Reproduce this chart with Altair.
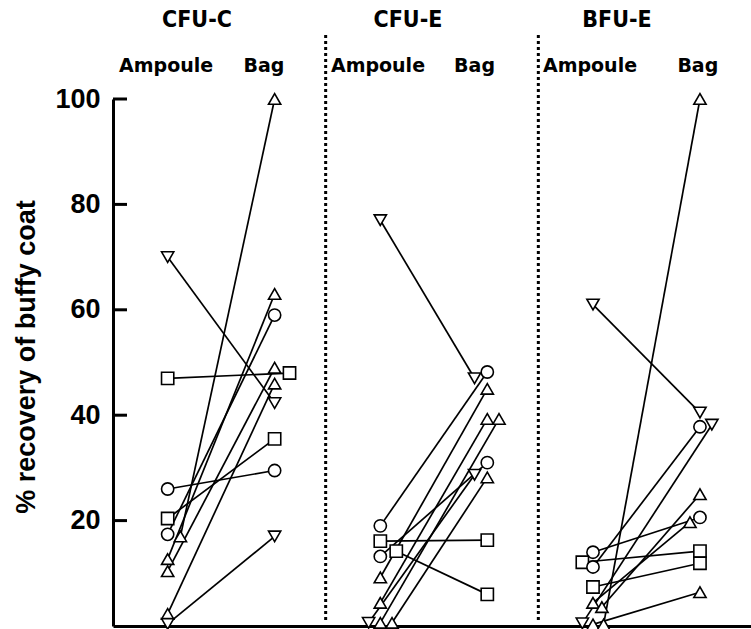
import altair as alt
import pandas as pd

# Recovery (%) of progenitors from buffy coat, frozen in ampoules vs bags.
panels = ["CFU-C", "CFU-E", "BFU-E"]

# one entry per sample: marker, ampoule value, bag value
cfuc_shape = ["triangle-down", "square", "circle", "square", "circle",
              "triangle-up", "triangle-up", "triangle-up", "triangle-up", "triangle-down"]
cfuc_ampoule = [70, 47, 26, 20.4, 17.4, 17, 12.7, 10.4, 2.3, 0.4]
cfuc_bag = [42.3, 48, 29.5, 35.5, 59, 100, 63, 49, 46, 17]

cfue_shape = ["triangle-down", "circle", "square", "square", "circle",
              "triangle-up", "triangle-up", "triangle-down", "triangle-up", "triangle-up"]
cfue_ampoule = [77, 19, 16.1, 14.2, 13.2, 9.2, 4.4, 0.6, 0.6, 0.6]
cfue_bag = [47, 48.2, 16.3, 6.0, 31.0, 45, 39.3, 28.7, 39.3, 28.2]

bfue_shape = ["triangle-down", "circle", "square", "circle", "square",
              "triangle-up", "triangle-up", "triangle-down", "triangle-up", "triangle-up"]
bfue_ampoule = [61, 14, 12.1, 11.2, 7.4, 4.4, 3.6, 0.5, 0.3, 0.3]
bfue_bag = [40.5, 20.6, 14.2, 37.8, 11.9, 19.7, 25, 38.2, 6.4, 100]

# small horizontal spread so overlapping markers stay visible
cfuc_amp_dx = [0, 0, 0, 0, 0, 0.06, 0, 0, 0, 0]
cfuc_bag_dx = [0, 0.07, 0, 0, 0, 0, 0, 0, 0, 0]
cfue_amp_dx = [0, 0, 0, 0.075, 0, 0, 0, -0.055, 0, 0.055]
cfue_bag_dx = [-0.06, 0, 0, 0, 0, 0, 0, -0.06, 0.055, 0]
bfue_amp_dx = [0, 0, -0.05, 0, 0, 0, 0.042, -0.05, 0, 0.05]
bfue_bag_dx = [0, 0, 0, 0, 0, -0.047, 0, 0.056, 0, 0]

AMP_X, BAG_X = 0.257, 0.76

rows = []
sets = [
    (cfuc_shape, cfuc_ampoule, cfuc_bag, cfuc_amp_dx, cfuc_bag_dx),
    (cfue_shape, cfue_ampoule, cfue_bag, cfue_amp_dx, cfue_bag_dx),
    (bfue_shape, bfue_ampoule, bfue_bag, bfue_amp_dx, bfue_bag_dx),
]
for p, (shp, amp, bag, adx, bdx) in enumerate(sets):
    for i in range(len(shp)):
        pid = f"{panels[p]}-{i}"
        rows.append(dict(pair=pid, shape=shp[i], x=p + AMP_X + adx[i], y=amp[i], stage=0))
        rows.append(dict(pair=pid, shape=shp[i], x=p + BAG_X + bdx[i], y=bag[i], stage=1))
df = pd.DataFrame(rows)

LABEL_FONT = "Liberation Sans"

x_scale = alt.Scale(domain=[0, 3], nice=False, zero=False)
y_scale = alt.Scale(domain=[0, 100], nice=False)
x_axis = alt.Axis(labels=False, ticks=False, grid=False, title=None,
                  domainWidth=3, domainColor="black")
y_axis = alt.Axis(values=[20, 40, 60, 80, 100], ticks=False, grid=False,
                  title=None, domainWidth=3, domainColor="black",
                  labelFont=LABEL_FONT, labelFontSize=27, labelFontWeight="bold",
                  labelColor="black", labelPadding=13)


def X():
    return alt.X("x:Q", scale=x_scale, axis=x_axis)


def Y():
    return alt.Y("y:Q", scale=y_scale, axis=y_axis)


base = alt.Chart(df)

lines = base.mark_line(color="black", strokeWidth=1.7).encode(
    x=X(), y=Y(), detail="pair:N", order="stage:Q",
)

points = base.mark_point(filled=True, fill="white", stroke="black",
                         strokeWidth=1.6, size=150, opacity=1).encode(
    x=X(), y=Y(),
    shape=alt.Shape("shape:N",
                    scale=alt.Scale(domain=["circle", "square", "triangle-up", "triangle-down"],
                                    range=["circle", "square", "triangle-up", "triangle-down"]),
                    legend=None),
)

# inward-pointing tick marks on the y axis
tick_vals = pd.DataFrame({"y": [20, 40, 60, 80, 100]})
ticks = alt.Chart(tick_vals).mark_rule(color="black", strokeWidth=3).encode(
    y=Y(), x=alt.value(0), x2=alt.value(14),
)

# dotted separators between the three panels
sep = pd.DataFrame({"x": [1.0, 2.0]})
separators = alt.Chart(sep).mark_rule(color="black", strokeWidth=3, strokeDash=[3, 3]).encode(
    x=X(), y=alt.value(-64), y2=alt.value(521),
)

# panel titles and column headings
title_df = pd.DataFrame({"label": panels, "x": [0.395, 1.387, 2.37]})
titles = alt.Chart(title_df).mark_text(
    font="DejaVu Sans Condensed, Liberation Sans, sans-serif", fontSize=23, fontWeight="bold",
    color="black", baseline="middle", align="center"
).encode(x=X(), y=alt.value(-79), text="label:N")

head_df = pd.DataFrame({
    "label": ["Ampoule", "Bag", "Ampoule", "Bag", "Ampoule", "Bag"],
    "x": [0.25, 0.71, 1.246, 1.70, 2.243, 2.75],
})
heads = alt.Chart(head_df).mark_text(
    font="DejaVu Sans", fontSize=19, fontWeight="bold", color="black",
    baseline="middle", align="center"
).encode(x=X(), y=alt.value(-33), text="label:N")

ytitle = alt.Chart(pd.DataFrame({"t": ["% recovery of buffy coat"]})).mark_text(
    font=LABEL_FONT, fontSize=27, fontWeight="bold", color="black",
    angle=270, baseline="middle", align="center"
).encode(x=alt.value(-86), y=alt.value(258), text="t:N")

chart = alt.layer(separators, lines, points, ticks, titles, heads, ytitle).properties(
    width=638, height=527,
    padding={"left": 113, "top": 99, "right": 0, "bottom": 3},
    autosize=alt.AutoSizeParams(type="none"),
    background="white",
).configure_view(stroke="transparent", strokeWidth=0).configure_axis(grid=False)

chart.save("out.html", embed_options={"renderer": "svg", "actions": False})
